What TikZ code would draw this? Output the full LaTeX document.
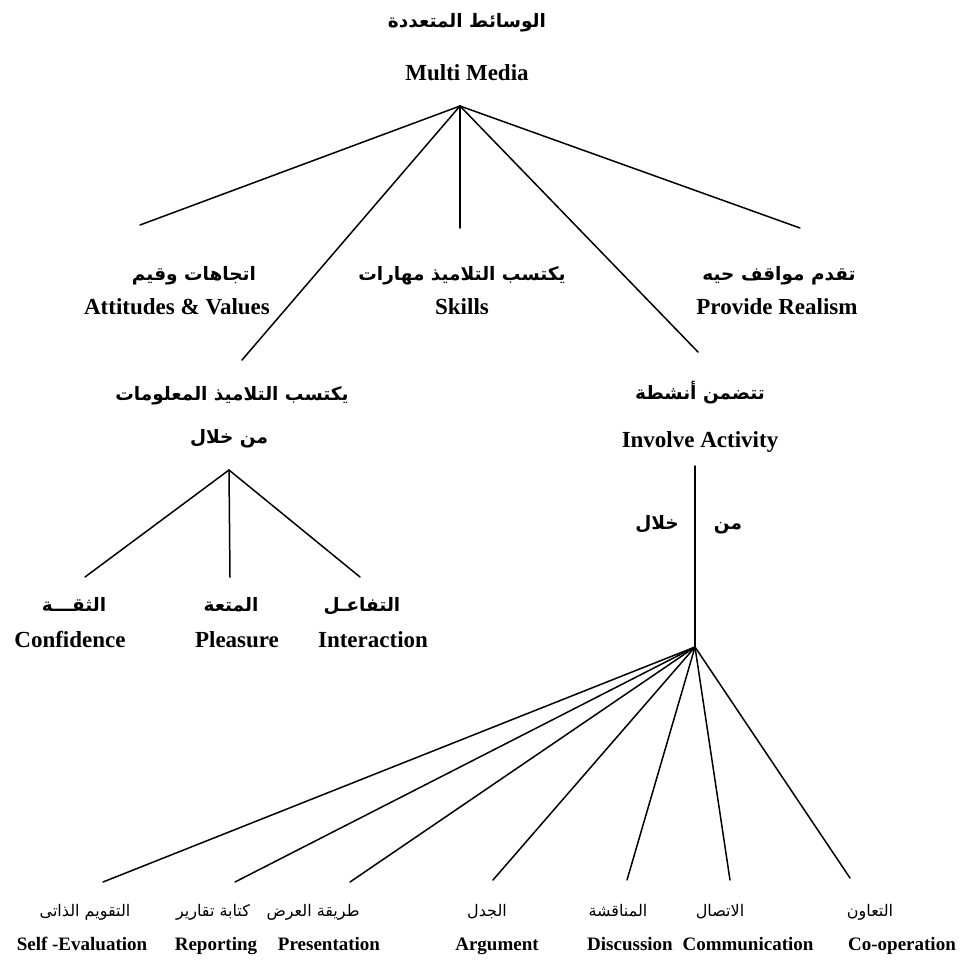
\documentclass[tikz,border=0pt]{standalone}
\usepackage{fontspec}
\setmainfont{Liberation Serif}
\newfontfamily\arabicfont[Script=Arabic,BoldFont={DejaVu Sans Bold}]{DejaVu Sans}
\TeXXeTstate=1
\newcommand\artxt[1]{\beginR #1\endR}
\tikzset{
  en/.style={font=\fontsize{23}{27}\selectfont\bfseries, inner sep=0pt, anchor=base},
  arb/.style={font=\fontsize{18.5}{22}\selectfont\arabicfont\bfseries, inner sep=0pt, anchor=base},
  ensm/.style={font=\fontsize{19}{23}\selectfont\bfseries, inner sep=0pt, anchor=base},
  arsm/.style={font=\fontsize{16}{19}\selectfont\arabicfont, inner sep=0pt, anchor=base},
  ln/.style={line width=1.5pt, line cap=round}
}
\begin{document}
\begin{tikzpicture}[x=1pt,y=-1pt]
\useasboundingbox (0,0) rectangle (978,970);
% title
\node[arb] (tar) at (467,27) {\artxt{الوسائط المتعددة}};
\node[en] (ten) at (467,80) {Multi Media};
\coordinate (hub) at (460,106);
\coordinate (e1) at (140,225);
\coordinate (e2) at (242,360);
\coordinate (e3) at (460,228);
\coordinate (e4) at (698,352);
\coordinate (e5) at (800,228);
\foreach \e in {e1,e2,e3,e4,e5} \draw[ln] (hub) -- (\e);
% level 1 labels
\node[arb] (avar) at (194,280) {\artxt{اتجاهات وقيم}};
\node[en] (aven) at (177,314) {Attitudes \& Values};
\node[arb] (skar) at (462,280) {\artxt{يكتسب التلاميذ مهارات}};
\node[en] (sken) at (462,314) {Skills};
\node[arb] (prar) at (779,280) {\artxt{تقدم مواقف حيه}};
\node[en] (pren) at (777,314) {Provide Realism};
\node[arb] (infar) at (232,400) {\artxt{يكتسب التلاميذ المعلومات}};
\node[arb] (infar2) at (229,443) {\artxt{من خلال}};
\node[arb] (iaar) at (700,399) {\artxt{تتضمن أنشطة}};
\node[en] (iaen) at (700,447) {Involve Activity};
% left subtree
\coordinate (sh) at (229,470);
\coordinate (s1) at (85,577);
\coordinate (s2) at (230,577);
\coordinate (s3) at (360,577);
\foreach \e in {s1,s2,s3} \draw[ln] (sh) -- (\e);
\node[arb] (cfar) at (74,611) {\artxt{الثقـــة}};
\node[en] (cfen) at (70,647) {Confidence};
\node[arb] (plar) at (231,611) {\artxt{المتعة}};
\node[en] (plen) at (237,647) {Pleasure};
\node[arb] (itar) at (362,611) {\artxt{التفاعـل}};
\node[en] (iten) at (373,647) {Interaction};
% right subtree
\coordinate (vt) at (695,466);
\coordinate (bh) at (695,647);
\draw[ln] (vt) -- (bh);
\node[arb] (min) at (728,529) {\artxt{من}};
\node[arb] (khilal) at (657,529) {\artxt{خلال}};
\coordinate (b1) at (103,882);
\coordinate (b2) at (235,882);
\coordinate (b3) at (350,882);
\coordinate (b4) at (493,880);
\coordinate (b5) at (627,880);
\coordinate (b6) at (730,880);
\coordinate (b7) at (850,878);
\foreach \e in {b1,b2,b3,b4,b5,b6,b7} \draw[ln] (bh) -- (\e);
\node[arsm] (a1) at (85,916) {\artxt{التقويم الذاتى}};
\node[arsm] (a2) at (213,916) {\artxt{كتابة تقارير}};
\node[arsm] (a3) at (313,916) {\artxt{طريقة العرض}};
\node[arsm] (a4) at (487,916) {\artxt{الجدل}};
\node[arsm] (a5) at (618,916) {\artxt{المناقشة}};
\node[arsm] (a6) at (720,916) {\artxt{الاتصال}};
\node[arsm] (a7) at (870,916) {\artxt{التعاون}};
\node[ensm] (n1) at (82,950) {Self -Evaluation};
\node[ensm] (n2) at (216,950) {Reporting};
\node[ensm] (n3) at (329,950) {Presentation};
\node[ensm] (n4) at (497,950) {Argument};
\node[ensm] (n5) at (630,950) {Discussion};
\node[ensm] (n6) at (748,950) {Communication};
\node[ensm] (n7) at (902,950) {Co-operation};
\end{tikzpicture}
\end{document}
